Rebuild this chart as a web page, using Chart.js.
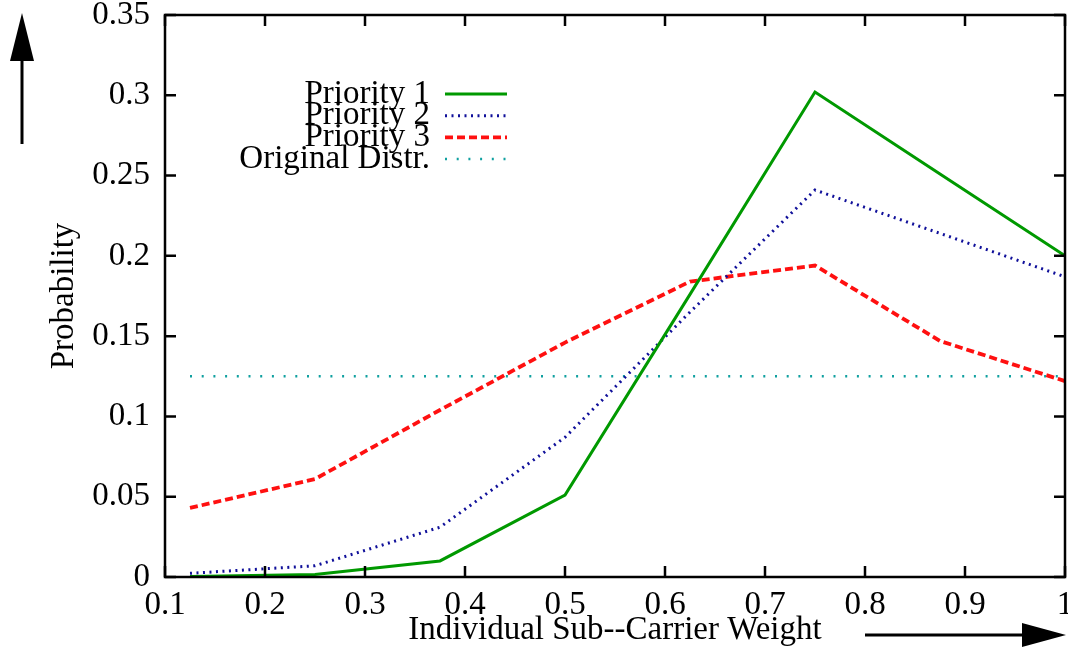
<!DOCTYPE html>
<html>
<head>
<meta charset="utf-8">
<script src="https://cdn.jsdelivr.net/npm/chart.js@4.4.1/dist/chart.umd.min.js"></script>
<style>
  html, body { margin: 0; padding: 0; background: #fff; }
  #wrap { width: 1068px; height: 650px; }
</style>
</head>
<body>
<div id="wrap"><canvas id="chart" width="1068" height="650"></canvas></div>
<script>
// sub-carrier weights (x) and probabilities
const weights = [0.125, 0.25, 0.375, 0.5, 0.625, 0.75, 0.875, 1];
const priority1 = [0.0003, 0.0015, 0.01, 0.051, 0.176, 0.302, 0.251, 0.2];
const priority2 = [0.0023, 0.007, 0.031, 0.087, 0.165, 0.241, 0.214, 0.187];
const priority3 = [0.043, 0.061, 0.104, 0.146, 0.184, 0.194, 0.147, 0.122];
const original = [0.125, 0.125, 0.125, 0.125, 0.125, 0.125, 0.125, 0.125];
const seriesNames = ['Priority 1', 'Priority 2', 'Priority 3', 'Original Distr.'];

const FONT = '"Liberation Serif", "DejaVu Serif", serif';
const toPoints = values => values.map((y, i) => ({ x: weights[i], y }));

function makeSet(label, values, color, width, dash) {
  return {
    label,
    data: toPoints(values),
    borderColor: color,
    backgroundColor: color,
    borderWidth: width,
    borderDash: dash,
    pointRadius: 0,
    tension: 0,
    fill: false,
  };
}

// frame with inward mirror ticks, legend and the two arrows, gnuplot style
const gnuplotDecor = {
  id: 'gnuplotDecor',
  afterDraw(chart) {
    const { ctx, chartArea: a, scales } = chart;
    ctx.save();
    ctx.strokeStyle = '#000';
    ctx.lineWidth = 2.5;
    ctx.strokeRect(a.left, a.top, a.right - a.left, a.bottom - a.top);

    ctx.beginPath();
    for (const t of scales.x.ticks) {
      const px = scales.x.getPixelForValue(t.value);
      ctx.moveTo(px, a.bottom); ctx.lineTo(px, a.bottom - 11);
      ctx.moveTo(px, a.top); ctx.lineTo(px, a.top + 11);
    }
    for (const t of scales.y.ticks) {
      const py = scales.y.getPixelForValue(t.value);
      ctx.moveTo(a.left, py); ctx.lineTo(a.left + 11, py);
      ctx.moveTo(a.right, py); ctx.lineTo(a.right - 11, py);
    }
    ctx.stroke();

    // legend
    ctx.font = '33px ' + FONT;
    ctx.fillStyle = '#000';
    ctx.textAlign = 'right';
    ctx.textBaseline = 'middle';
    chart.data.datasets.forEach((ds, i) => {
      const y = 94 + i * 21.7;
      ctx.fillText(ds.label, 430, y);
      ctx.save();
      ctx.strokeStyle = ds.borderColor;
      ctx.lineWidth = ds.borderWidth;
      ctx.setLineDash(ds.borderDash || []);
      ctx.beginPath();
      ctx.moveTo(445, y);
      ctx.lineTo(507, y);
      ctx.stroke();
      ctx.restore();
    });

    // up arrow next to the y axis
    ctx.lineWidth = 3;
    ctx.beginPath();
    ctx.moveTo(22, 144); ctx.lineTo(22, 58);
    ctx.stroke();
    ctx.beginPath();
    ctx.moveTo(22, 13); ctx.lineTo(10, 61); ctx.lineTo(34, 61);
    ctx.closePath();
    ctx.fill();

    // right arrow next to the x title
    ctx.beginPath();
    ctx.moveTo(865, 635); ctx.lineTo(1025, 635);
    ctx.stroke();
    ctx.beginPath();
    ctx.moveTo(1066, 635); ctx.lineTo(1022, 623); ctx.lineTo(1022, 647);
    ctx.closePath();
    ctx.fill();
    ctx.restore();
  },
};

new Chart(document.getElementById('chart'), {
  type: 'line',
  data: {
    datasets: [
      makeSet(seriesNames[0], priority1, '#009900', 3, []),
      makeSet(seriesNames[1], priority2, '#10109a', 3, [2, 4.5]),
      makeSet(seriesNames[2], priority3, '#ff1010', 3.8, [8, 4]),
      makeSet(seriesNames[3], original, '#10a0a0', 2.5, [2, 9.7]),
    ],
  },
  options: {
    responsive: false,
    animation: false,
    layout: { padding: { top: 15, right: 3, left: 0, bottom: 0 } },
    plugins: { legend: { display: false }, tooltip: { enabled: false } },
    scales: {
      x: {
        type: 'linear',
        min: 0.1,
        max: 1,
        grid: { display: false, drawTicks: false },
        border: { display: false },
        ticks: {
          stepSize: 0.1,
          padding: 9,
          color: '#000',
          font: { family: FONT, size: 33 },
          maxRotation: 0,
          callback: v => String(Number(v.toFixed(2))),
        },
        title: {
          display: true,
          text: 'Individual Sub--Carrier Weight',
          color: '#000',
          font: { family: FONT, size: 33 },
          padding: 0,
        },
        afterFit(scale) {
          scale.height = 73;
          scale.paddingLeft = 0;
          scale.paddingRight = 0;
        },
      },
      y: {
        min: 0,
        max: 0.35,
        grid: { display: false, drawTicks: false },
        border: { display: false },
        ticks: {
          stepSize: 0.05,
          padding: 15,
          color: '#000',
          font: { family: FONT, size: 33 },
          callback: v => String(Number(v.toFixed(2))),
        },
        title: {
          display: true,
          text: 'Probability',
          color: '#000',
          font: { family: FONT, size: 33 },
          padding: { top: 45, bottom: 0 },
        },
        afterFit(scale) {
          scale.width = 165;
          scale.paddingTop = 0;
          scale.paddingBottom = 0;
        },
      },
    },
  },
  plugins: [gnuplotDecor],
});
</script>
</body>
</html>
